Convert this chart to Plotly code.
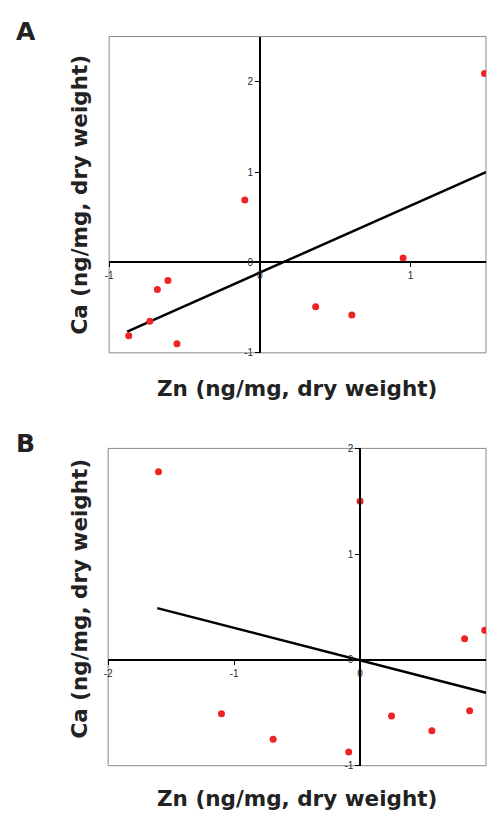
import plotly.graph_objects as go

# ---- data ----
a_zn = [-0.87, -0.73, -0.68, -0.61, -0.55, -0.10, 0.37, 0.61, 0.95, 1.49]
a_ca = [-0.81, -0.65, -0.30, -0.20, -0.90, 0.69, -0.49, -0.58, 0.05, 2.09]
a_fit_zn = [-0.88, 1.5]
a_fit_ca = [-0.765, 1.0]
a_xticks = [-1, 0, 1]
a_yticks = [-1, 0, 1, 2]

b_zn = [-1.60, -1.10, -0.69, -0.09, 0.0, 0.25, 0.57, 0.83, 0.87, 0.99]
b_ca = [1.78, -0.51, -0.75, -0.87, 1.50, -0.53, -0.67, 0.20, -0.48, 0.28]
b_fit_zn = [-1.61, 1.0]
b_fit_ca = [0.49, -0.31]
b_xticks = [-2, -1, 0]
b_yticks = [-1, 0, 1, 2]

x_title = "Zn (ng/mg, dry weight)"
y_title = "Ca (ng/mg, dry weight)"

W, H = 487, 818
RED = "#ee2424"
TICKFONT = dict(family="Liberation Sans, Arial", size=10, color="#2a2a3a")
TITLEFONT = dict(family="DejaVu Sans", size=21.5, color="#222")


def px_x(p):
    return p / W


def px_y(p):
    return 1 - p / H


panels = [
    dict(zn=a_zn, ca=a_ca, fzn=a_fit_zn, fca=a_fit_ca, xt=a_xticks, yt=a_yticks,
         xr=[-1, 1.5], yr=[-1, 2.5], box=(106, 486, 31, 352),
         xt_y=388, yt_x=76, yt_y=191, lab="A", lab_xy=(22, 26)),
    dict(zn=b_zn, ca=b_ca, fzn=b_fit_zn, fca=b_fit_ca, xt=b_xticks, yt=b_yticks,
         xr=[-2, 1], yr=[-1, 2], box=(105, 486, 449, 771),
         xt_y=804, yt_x=76, yt_y=601, lab="B", lab_xy=(22, 444)),
]

fig = go.Figure()
layout = dict(width=W, height=H, margin=dict(l=0, r=0, t=0, b=0),
              paper_bgcolor="white", plot_bgcolor="white", showlegend=False,
              shapes=[], annotations=[])

for i, p in enumerate(panels, start=1):
    xa = "x" if i == 1 else f"x{i}"
    ya = "y" if i == 1 else f"y{i}"
    l, r, t, b = p["box"]
    xdom = [px_x(l), px_x(r)]
    ydom = [px_y(b), px_y(t)]
    # where the zero lines sit, in paper coordinates
    xpos = xdom[0] + (0 - p["xr"][0]) / (p["xr"][1] - p["xr"][0]) * (xdom[1] - xdom[0])
    ypos = ydom[0] + (0 - p["yr"][0]) / (p["yr"][1] - p["yr"][0]) * (ydom[1] - ydom[0])

    fig.add_trace(go.Scatter(x=p["fzn"], y=p["fca"], mode="lines",
                             line=dict(color="black", width=2.5),
                             xaxis=xa, yaxis=ya, hoverinfo="skip"))
    fig.add_trace(go.Scatter(x=p["zn"], y=p["ca"], mode="markers",
                             marker=dict(color=RED, size=7),
                             xaxis=xa, yaxis=ya))

    xkey = "xaxis" if i == 1 else f"xaxis{i}"
    ykey = "yaxis" if i == 1 else f"yaxis{i}"
    layout[xkey] = dict(domain=xdom, range=p["xr"], anchor="free", position=ypos,
                        showline=True, linecolor="black", linewidth=1.5,
                        ticks="outside", ticklen=4, tickcolor="black", tickwidth=1,
                        tickvals=p["xt"], ticktext=[str(v) for v in p["xt"]],
                        tickfont=TICKFONT, showgrid=False, zeroline=False)
    layout[ykey] = dict(domain=ydom, range=p["yr"], anchor="free", position=xpos,
                        showline=True, linecolor="black", linewidth=1.5,
                        ticks="outside", ticklen=4, tickcolor="black", tickwidth=1,
                        tickvals=p["yt"], ticktext=[str(v) for v in p["yt"]],
                        tickfont=TICKFONT, showgrid=False, zeroline=False)
    layout["shapes"].append(dict(type="rect", xref=f"{xa} domain", yref=f"{ya} domain",
                                 x0=0, x1=1, y0=0, y1=1,
                                 line=dict(color="#8a8a8a", width=1), layer="below"))
    layout["annotations"].append(dict(text=f"<b>{x_title}</b>", xref="paper", yref="paper",
                                      x=px_x(295), y=px_y(p["xt_y"]), showarrow=False,
                                      xanchor="center", yanchor="middle", font=TITLEFONT))
    layout["annotations"].append(dict(text=f"<b>{y_title}</b>", xref="paper", yref="paper",
                                      x=px_x(p["yt_x"]), y=px_y(p["yt_y"]), showarrow=False,
                                      textangle=-90, xanchor="center", yanchor="middle",
                                      font=TITLEFONT))
    layout["annotations"].append(dict(text=f"<b>{p['lab']}</b>", xref="paper", yref="paper",
                                      x=px_x(p["lab_xy"][0]), y=px_y(p["lab_xy"][1]),
                                      showarrow=False, xanchor="center", yanchor="middle",
                                      font=dict(family="DejaVu Sans", size=25, color="#222")))

fig.update_layout(**layout)
fig.write_html("out.html", config={"displayModeBar": False},
               post_script="document.body.style.margin='0';document.body.style.overflow='hidden';")
